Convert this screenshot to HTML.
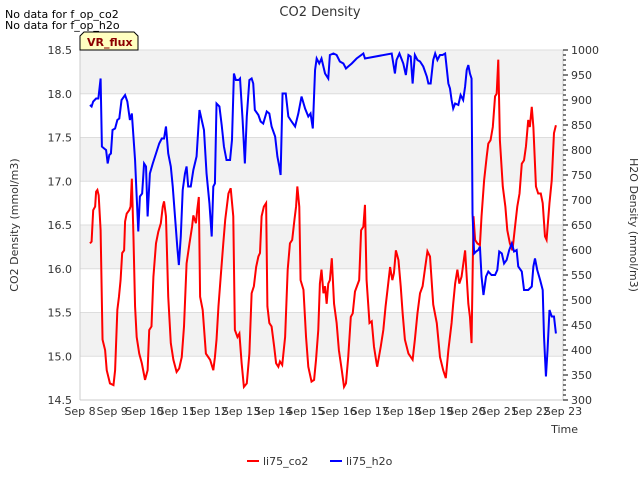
<!DOCTYPE html>
<html><head><meta charset="utf-8"><style>
body{margin:0;background:#fff;font-family:"Liberation Sans","DejaVu Sans",sans-serif}
svg text{font-family:"DejaVu Sans","Liberation Sans",sans-serif}
</style></head><body>
<svg id="c" width="640" height="480" xmlns="http://www.w3.org/2000/svg">
<text x="320" y="16" text-anchor="middle" font-size="13" fill="#333">CO2 Density</text>
<text x="5" y="18" font-size="11" fill="#000">No data for f_op_co2</text>
<text x="5" y="29" font-size="11" fill="#000">No data for f_op_h2o</text>
<g id="plot"></g>
<text x="18" y="225" font-size="11" fill="#333" text-anchor="middle" transform="rotate(-90 18 225)">CO2 Density (mmol/m3)</text>
<text x="630" y="225" font-size="11" fill="#333" text-anchor="middle" transform="rotate(90 630 225)">H2O Density (mmol/m3)</text>
<text x="578" y="433" font-size="11" fill="#333" text-anchor="end">Time</text>
<g>
<line x1="247" y1="461" x2="259" y2="461" stroke="#f00" stroke-width="2"/>
<text x="263" y="465" font-size="11" fill="#333">li75_co2</text>
<line x1="330" y1="461" x2="342" y2="461" stroke="#00f" stroke-width="2"/>
<text x="346" y="465" font-size="11" fill="#333">li75_h2o</text>
</g>
<g>
<path d="M80,50 L80,36 L84,32 L134,32 L138,36 L138,50 Z" fill="#ffffc0" stroke="#000"/>
<text x="87" y="46" font-size="11" font-weight="bold" fill="#8b0000">VR_flux</text>
</g>
</svg>
<script>
const xTickLabels=["Sep 8","Sep 9","Sep 10","Sep 11","Sep 12","Sep 13","Sep 14","Sep 15","Sep 16","Sep 17","Sep 18","Sep 19","Sep 20","Sep 21","Sep 22","Sep 23"];
const leftTicks=[14.5,15.0,15.5,16.0,16.5,17.0,17.5,18.0,18.5];
const rightTicks=[300,350,400,450,500,550,600,650,700,750,800,850,900,950,1000];
const co2Days=[0.31,0.36,0.41,0.47,0.50,0.54,0.58,0.64,0.70,0.78,0.83,0.93,1.04,1.09,1.16,1.21,1.26,1.31,1.37,1.40,1.45,1.53,1.57,1.61,1.66,1.71,1.76,1.84,1.92,2.02,2.10,2.15,2.22,2.28,2.36,2.43,2.51,2.57,2.61,2.67,2.74,2.82,2.90,3.00,3.08,3.16,3.23,3.31,3.40,3.48,3.52,3.60,3.64,3.69,3.73,3.81,3.91,4.04,4.14,4.19,4.24,4.30,4.37,4.45,4.51,4.61,4.68,4.76,4.81,4.89,4.95,5.02,5.09,5.18,5.26,5.33,5.40,5.47,5.54,5.59,5.64,5.71,5.78,5.82,5.88,5.95,6.03,6.09,6.16,6.21,6.28,6.37,6.45,6.52,6.59,6.66,6.71,6.75,6.81,6.85,6.94,7.02,7.09,7.19,7.27,7.33,7.40,7.45,7.50,7.56,7.61,7.66,7.71,7.76,7.82,7.89,7.97,8.04,8.13,8.20,8.26,8.33,8.41,8.47,8.54,8.61,8.67,8.73,8.80,8.85,8.90,8.99,9.06,9.13,9.21,9.23,9.34,9.42,9.49,9.55,9.63,9.70,9.75,9.81,9.89,9.96,10.02,10.09,10.20,10.33,10.40,10.48,10.56,10.64,10.71,10.79,10.87,10.97,11.08,11.18,11.28,11.36,11.44,11.54,11.59,11.65,11.72,11.78,11.85,11.96,12.06,12.11,12.16,12.22,12.27,12.34,12.42,12.47,12.55,12.63,12.68,12.75,12.82,12.89,12.94,12.99,13.04,13.13,13.21,13.27,13.35,13.43,13.51,13.58,13.65,13.72,13.79,13.85,13.92,13.97,14.03,14.08,14.16,14.23,14.31,14.37,14.44,14.49,14.58,14.65,14.72,14.78];
const co2Values=[16.29,16.31,16.67,16.71,16.88,16.90,16.84,16.44,15.19,15.07,14.84,14.69,14.67,14.84,15.53,15.68,15.87,16.18,16.21,16.54,16.63,16.67,16.71,17.03,16.37,15.57,15.22,15.03,14.92,14.73,14.84,15.30,15.34,15.91,16.29,16.42,16.52,16.71,16.77,16.60,15.68,15.15,14.96,14.82,14.86,14.99,15.34,16.06,16.29,16.48,16.61,16.52,16.67,16.82,15.68,15.53,15.03,14.96,14.84,14.99,15.19,15.57,15.91,16.29,16.56,16.86,16.92,16.60,15.30,15.22,15.26,14.92,14.65,14.69,15.03,15.72,15.80,16.02,16.14,16.18,16.60,16.71,16.75,15.57,15.38,15.34,15.11,14.92,14.88,14.94,14.90,15.22,15.99,16.29,16.33,16.56,16.71,16.94,16.71,15.87,15.76,15.22,14.88,14.71,14.73,14.96,15.30,15.83,15.99,15.72,15.80,15.60,15.83,15.87,16.12,15.60,15.38,15.07,14.84,14.65,14.69,14.99,15.45,15.49,15.74,15.81,15.87,16.44,16.48,16.73,15.87,15.38,15.40,15.11,14.92,14.88,15.11,15.30,15.57,15.76,16.02,15.87,15.95,16.21,16.10,15.80,15.49,15.19,15.03,14.96,15.19,15.49,15.72,15.80,15.99,16.20,16.14,15.59,15.38,14.99,14.84,14.75,15.07,15.38,15.60,15.83,15.99,15.83,15.91,16.21,15.60,15.45,15.15,16.60,16.33,16.29,16.27,16.60,17.01,17.28,17.43,17.47,17.62,17.97,18.00,18.39,17.47,16.94,16.71,16.44,16.29,16.21,16.48,16.71,16.86,17.20,17.24,17.40,17.70,17.62,17.85,17.62,16.94,16.86,16.86,16.75,16.37,16.33,16.75,17.01,17.55,17.64];
const h2oDays=[0.31,0.36,0.41,0.50,0.57,0.60,0.64,0.68,0.75,0.81,0.86,0.91,0.96,1.01,1.09,1.16,1.22,1.29,1.40,1.47,1.55,1.61,1.71,1.76,1.81,1.86,1.93,1.99,2.05,2.10,2.17,2.26,2.36,2.46,2.54,2.61,2.67,2.74,2.82,2.88,2.95,3.02,3.07,3.13,3.19,3.26,3.31,3.36,3.44,3.52,3.62,3.71,3.78,3.85,3.93,4.02,4.09,4.14,4.19,4.24,4.33,4.40,4.47,4.55,4.66,4.72,4.78,4.84,4.93,4.97,5.05,5.12,5.18,5.26,5.33,5.38,5.43,5.54,5.61,5.69,5.80,5.88,5.95,6.06,6.13,6.19,6.23,6.29,6.39,6.47,6.57,6.68,6.78,6.88,6.99,7.09,7.16,7.23,7.30,7.35,7.43,7.50,7.61,7.71,7.76,7.87,7.97,8.07,8.18,8.26,8.33,8.44,8.59,8.80,8.85,9.68,9.78,9.83,9.92,10.04,10.12,10.20,10.27,10.33,10.40,10.48,10.56,10.66,10.77,10.82,10.89,10.97,11.03,11.10,11.18,11.26,11.34,11.44,11.49,11.54,11.59,11.65,11.75,11.82,11.90,11.96,12.01,12.06,12.11,12.16,12.19,12.24,12.30,12.37,12.42,12.47,12.53,12.61,12.68,12.78,12.89,12.96,13.02,13.10,13.17,13.25,13.33,13.41,13.48,13.56,13.61,13.72,13.79,13.92,14.03,14.08,14.13,14.20,14.29,14.37,14.41,14.47,14.52,14.58,14.65,14.72,14.78];
const h2oValues=[890,887,897,903,903,920,943,807,803,800,773,790,793,840,843,860,863,900,910,897,860,873,780,707,637,707,713,773,767,667,753,773,793,813,823,823,847,793,767,727,667,607,570,627,720,753,767,727,727,760,787,880,860,840,753,693,627,727,733,893,887,850,807,780,780,820,953,940,940,943,860,773,867,940,943,933,880,870,857,853,877,873,847,827,787,767,750,913,913,867,857,847,873,907,883,867,873,843,960,983,973,983,953,943,990,993,990,977,973,963,967,973,983,993,983,993,953,980,993,973,950,990,987,933,990,980,977,967,947,933,933,980,993,980,990,990,993,933,923,900,883,893,890,910,900,927,960,970,953,943,673,593,597,600,607,547,510,547,557,550,550,560,597,593,573,580,600,613,597,600,567,557,520,520,527,567,583,560,540,520,427,347,400,480,467,467,433];

const NS="http://www.w3.org/2000/svg";
const X0=80,X1=563,Y0=400,Y1=50;
const xS=d=>X0+d*(X1-X0)/15;
const yL=v=>Y0-(v-14.5)*(Y0-Y1)/4;
const yR=v=>Y0-(v-300)*(Y0-Y1)/700;
const g=document.getElementById('plot');
function mk(t,a){const e=document.createElementNS(NS,t);for(const k in a)e.setAttribute(k,a[k]);g.appendChild(e);return e;}
for(let i=0;i<leftTicks.length-1;i++){
  if(i%2===1){const r=mk('rect',{x:X0,y:yL(leftTicks[i+1]),width:X1-X0,height:yL(leftTicks[i])-yL(leftTicks[i+1]),fill:'#f2f2f2'});
  
  }
}
leftTicks.forEach(v=>{
  const l=mk('line',{x1:X0,x2:X1,y1:yL(v),y2:yL(v),stroke:'#ddd','stroke-width':1});
  
  
  const t=mk('text',{x:X0-8,y:yL(v)+4,'text-anchor':'end','font-size':11,fill:'#333'});
  t.textContent=v.toFixed(1);
  
  
});
mk('line',{x1:X0,x2:X0,y1:Y1,y2:Y0,stroke:'#ccc'});
mk('line',{x1:X0,x2:X1,y1:Y0,y2:Y0,stroke:'#ccc'});
mk('line',{x1:X1,x2:X1,y1:Y1,y2:Y0,stroke:'#ccc'});
rightTicks.forEach(v=>{
  mk('line',{x1:X1,x2:X1+5,y1:yR(v),y2:yR(v),stroke:'#000'});
  for(let k=1;k<5&&v<1000;k++){mk('line',{x1:X1,x2:X1+3,y1:yR(v+k*10),y2:yR(v+k*10),stroke:'#000'});}
  const t=mk('text',{x:X1+8,y:yR(v)+4,'font-size':11,fill:'#333'});
  t.textContent=v;
  
  
});
xTickLabels.forEach((s,i)=>{
  const t=mk('text',{x:xS(i),y:Y0+15,'text-anchor':'middle','font-size':11,fill:'#333'});
  t.textContent=s;
  
  
});
const p1=mk('polyline',{points:co2Days.map((d,i)=>xS(d)+','+yL(co2Values[i])).join(' '),fill:'none',stroke:'#f00','stroke-width':2});


const p2=mk('polyline',{points:h2oDays.map((d,i)=>xS(d)+','+yR(h2oValues[i])).join(' '),fill:'none',stroke:'#00f','stroke-width':2});


</script>
</body></html>
